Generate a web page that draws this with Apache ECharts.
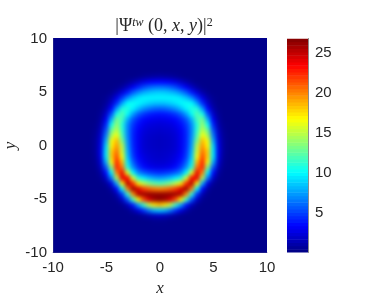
<!DOCTYPE html>
<html><head><meta charset="utf-8">
<style>html,body{margin:0;padding:0;background:#fff}#c{width:374px;height:305px}
/* shading: the image layer is displayed soft, as the reference's interpolated shading is, and cut to the plot box */
canvas[data-zr-dom-id="zr_-1"]{filter:blur(2px);clip-path:inset(38.5px 107px 52.5px 53px)}
</style>
<script src="https://cdn.jsdelivr.net/npm/echarts@6/dist/echarts.min.js"></script>
</head><body><div id="c"></div>
<script>
const barTicks = [5,10,15,20,25];
const background = 0.3;
const cellStep = 0.5;
// x positions of each column (the picture is mirror-symmetric about x = 0)
const xColumns = [0,0.5,1,1.5,2,2.5,3,3.5,4,4.5,5,5.5,6];
const yRows = [6.5,6,5.5,5,4.5,4,3.5,3,2.5,2,1.5,1,0.5,0,-0.5,-1,-1.5,-2,-2.5,-3,-3.5,-4,-4.5,-5,-5.5,-6,-6.5,-7];
const intensity = [
[1,.9,.8,.6,.4,.3],
[3.4,3.3,3,2.5,1.8,1.1,.6,.3],
[6.4,6.3,5.9,5.2,4.2,3,1.8,.9,.4,.3],
[8.8,8.7,8.4,7.9,7,5.7,4,2.4,1.2,.5,.3],
[9.8,9.8,9.8,9.8,9.4,8.5,7,4.8,2.7,1.2,.5,.3],
[8.4,8.5,8.8,9.3,9.9,10.3,10,7.6,4.4,2,.7,.3],
[5.8,6,6.5,7.2,8.4,9.8,10.9,10.8,7.2,3.4,1.2,.4,.3],
[3.8,3.9,4.2,4.8,5.8,7.6,10.2,12.2,10.6,5.4,2,.6,.3],
[2.8,2.9,3.1,3.5,4.3,5.6,8,11.8,13,8,3,.9,.3],
[2.3,2.4,2.5,2.9,3.6,4.8,7,11,14,10.5,4.2,1.2,.4],
[2,2.1,2.2,2.5,3.2,4.4,6.8,11.2,15,12.6,5.4,1.6,.5],
[1.8,1.9,2,2.3,3,4.3,6.9,12,16.5,14.4,6.6,2,.6],
[1.7,1.8,1.9,2.2,3,4.3,7.2,13.2,18.5,16.5,7.8,2.4,.7],
[1.7,1.8,1.9,2.2,3,4.4,7.5,15,19.5,17,9,2.6,.7],
[1.8,1.9,2,2.3,3.1,4.6,8,15.5,20.5,18,9.5,2.8,.7],
[1.9,2,2.2,2.6,3.4,5,8.5,16.5,21.5,18,9.5,2.6,.6],
[2.1,2.2,2.4,2.9,3.9,5.9,9.5,18.5,22.5,16.5,8,2.1,.5],
[2.6,2.7,3,3.7,4.9,7.2,11,20.5,22.5,13.5,5.6,1.5,.4],
[4.5,4.7,5.1,5.8,7,10,16,24,20,10,3.6,.9,.3],
[7.5,7.8,8.5,9.6,11,16,23.5,24,14.5,6.5,1.9,.5,.3],
[12,12.5,13.5,15,17.5,22.5,25.5,17,7.8,2.6,.7,.3],
[20,20.3,21,22,24.5,26,20,10,3.5,.9,.3],
[26.3,26.3,26.3,26,25.5,19.5,11,4.6,1.3,.4],
[26.5,26,24.5,21.5,17,11.5,5.5,1.8,.5,.3],
[18.5,17.5,15,11.5,7.5,3.8,1.5,.5,.3],
[8.5,8,6.5,4.5,2.5,1.1,.4,.3],
[1.8,1.6,1.2,.7,.4,.3],
[.4,.4,.3]
];
const jet = ['#000080','#0000ff','#0080ff','#00ffff','#80ff80','#ffff00','#ff8000','#ff0000','#800000'];
const barMin = 0, barMax = 26.8, barLevels = 64;

const cells = [];
for (let yi = -22; yi <= 22; yi++) for (let xi = -22; xi <= 22; xi++) {
  const x = xi*cellStep, y = yi*cellStep;
  const r = yRows.indexOf(y), c = xColumns.indexOf(Math.abs(x));
  let v = background;
  if (r >= 0 && c >= 0 && intensity[r][c] !== undefined) v = intensity[r][c];
  cells.push([x, y, v]);
}
const barCells = [];
for (let i = 0; i < barLevels; i++) {
  const v = barMin + (i+0.5)*(barMax-barMin)/barLevels;
  barCells.push([0.5, v, v]);
}
const textColor = '#262626';
const font = 'Liberation Sans';
const serif = 'Liberation Serif';

const chart = echarts.init(document.getElementById('c'), null, {renderer:'canvas'});
chart.setOption({
  animation:false,
  title:{
    left:159, top:12, textAlign:'center',
    text:'{n||Ψ}{t|tw}{n| (0, }{i|x}{n|, }{i|y}{n|)|}{s|2}',
    textStyle:{fontWeight:'normal',rich:{
      n:{fontFamily:serif,fontSize:18,color:textColor,fontWeight:'normal'},
      i:{fontFamily:serif,fontSize:18,fontStyle:'italic',color:textColor,fontWeight:'normal'},
      t:{fontFamily:serif,fontSize:12,fontStyle:'italic',color:textColor,verticalAlign:'top',fontWeight:'normal',padding:[0,0,6,0]},
      s:{fontFamily:serif,fontSize:12,color:textColor,verticalAlign:'top',fontWeight:'normal',padding:[0,0,6,0]}
    }}
  },
  visualMap:{show:false,type:'continuous',min:barMin,max:barMax,dimension:2,seriesIndex:[0,1],inRange:{color:jet}},
  grid:[
    {left:53,top:38.5,width:214,height:214,outerBoundsMode:'none'},
    {left:287,top:38.5,width:21,height:214,outerBoundsMode:'none'}
  ],
  xAxis:[
    {gridIndex:0,type:'value',min:-10,max:10,interval:5,
     name:'x',nameLocation:'middle',nameGap:28,
     nameTextStyle:{fontFamily:serif,fontStyle:'italic',fontSize:17,color:textColor},
     axisLine:{show:true,onZero:false,lineStyle:{color:'#3a3a8a',width:.5}},
     axisTick:{show:false},splitLine:{show:false},
     axisLabel:{fontFamily:font,fontSize:15,color:textColor,margin:8,showMinLabel:true,showMaxLabel:true}},
    {gridIndex:1,type:'value',min:0,max:1,axisLine:{show:false},axisTick:{show:false},axisLabel:{show:false},splitLine:{show:false}}
  ],
  yAxis:[
    {gridIndex:0,type:'value',min:-10,max:10,interval:5,
     name:'y',nameLocation:'middle',nameGap:34,nameRotate:90,nameMoveOverlap:false,
     nameTextStyle:{fontFamily:serif,fontStyle:'italic',fontSize:17,color:textColor},
     axisLine:{show:true,onZero:false,lineStyle:{color:'#3a3a8a',width:.5}},
     axisTick:{show:false},splitLine:{show:false},
     axisLabel:{fontFamily:font,fontSize:15,color:textColor,margin:6,showMinLabel:true,showMaxLabel:true}},
    {gridIndex:1,type:'value',min:barMin,max:barMax,position:'right',
     axisLine:{show:true,onZero:false,lineStyle:{color:'#8c8c8c',width:1}},
     axisTick:{show:true,inside:true,length:2,lineStyle:{color:'#404040',width:.5},customValues:barTicks},
     splitLine:{show:false},
     axisLabel:{fontFamily:font,fontSize:15,color:textColor,margin:7,customValues:barTicks}}
  ],
  series:[
    {type:'custom',xAxisIndex:0,yAxisIndex:0,clip:false,zlevel:-1,data:cells,encode:{x:0,y:1},silent:true,
     renderItem:(p,api)=>{
       const a=api.coord([api.value(0)-cellStep/2,api.value(1)+cellStep/2]);
       const b=api.coord([api.value(0)+cellStep/2,api.value(1)-cellStep/2]);
       return {type:'rect',shape:{x:a[0]-.5,y:a[1]-.5,width:b[0]-a[0]+1,height:b[1]-a[1]+1},style:{fill:api.visual('color')}};
     }},
    {type:'custom',xAxisIndex:1,yAxisIndex:1,clip:true,data:barCells,encode:{x:0,y:1},silent:true,
     renderItem:(p,api)=>{
       const d=(barMax-barMin)/barLevels/2;
       const a=api.coord([0,api.value(1)+d]);
       const b=api.coord([1,api.value(1)-d]);
       return {type:'rect',shape:{x:a[0],y:a[1],width:b[0]-a[0],height:b[1]-a[1]+.5},style:{fill:api.visual('color')}};
     }}
  ]
});
</script></body></html>
